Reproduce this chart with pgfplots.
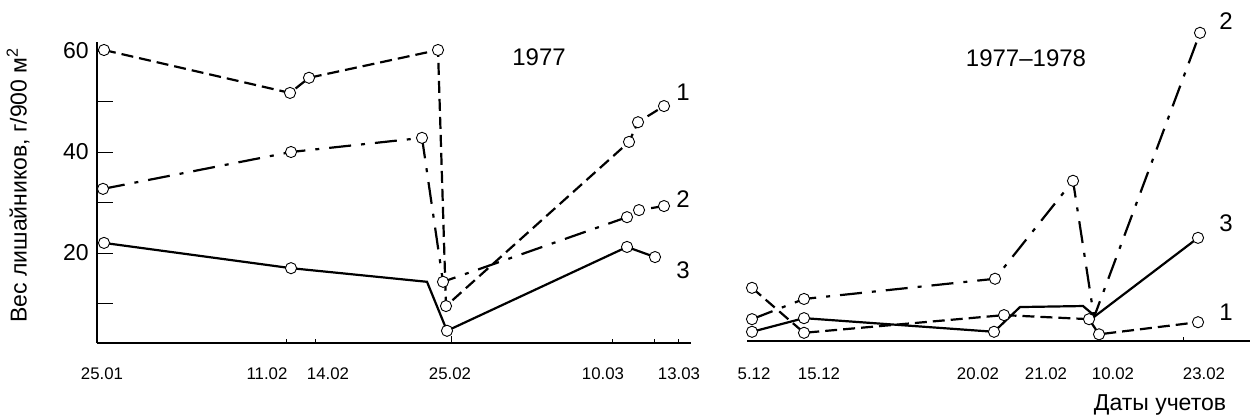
\documentclass[border=0pt]{standalone}
\usepackage{pgfplots}
\pgfplotsset{compat=1.18}
\usepackage{fontspec}
\setmainfont{Liberation Sans}
\tikzset{
 ser1/.style={black, line width=1.1pt, dash pattern=on 6pt off 3pt},
 ser2/.style={black, line width=1.1pt, dash pattern=on 11pt off 5pt on 2pt off 5pt},
 ser3/.style={black, line width=1.1pt, solid},
}
\pgfplotsset{
 mk/.style={mark=*, mark size=2.8pt, mark options={solid, fill=white, draw=black, line width=0.45pt}},
 common/.style={x=0.5pt, y=2.525pt, clip=false,
   axis line style={-, line width=0.7pt},
   /pgf/number format/assume math mode=true,
   tick style={black, line width=0.5pt},
   tick align=inside,
   xtick style={draw=none},
   xticklabel style={anchor=base, font=\fontsize{8.4}{9}\selectfont},
 },
}
\newcommand{\px}[2]{({#1*0.5pt},{-#2*0.5pt})}
\begin{document}
\begin{tikzpicture}
\useasboundingbox (0,0) rectangle (625.5pt,-209pt);
% left panel 1977
\begin{axis}[common, at={(48.5pt,-171.5pt)}, anchor=south west,
  xmin=97, xmax=691, ymin=2.18, ymax=61.8,
  axis x line*=bottom, axis y line*=left,
  ytick={20,40,60}, minor ytick={10,30,50},
  major tick length=8pt, minor tick length=8pt,
  yticklabel style={anchor=east, inner sep=0pt, xshift=-4pt, font=\fontsize{11.5}{12}\selectfont},
  xtick={102,267,328,450,603,679},
  xticklabels={25.01,11.02,14.02,25.02,10.03,13.03},
  xticklabel style={yshift=-18pt},
  extra x ticks={286,315,612,654,678}, extra x tick labels={},
  extra x tick style={major tick length=2pt, xtick style={draw=black}},
]
\addplot[ser1, mk] coordinates {(104,60.2) (290,51.7) (309,54.7) (438,60.2) (446,9.5) (629,42.0) (638,45.9) (664,49.1)};
\addplot[ser2, mk] coordinates {(103,32.7) (291,40.0) (422,42.8) (443,14.3) (627,27.1) (639,28.5) (664,29.3)};
\addplot[ser3, mk, mark indices={1,2,4,5,6}] coordinates {(104,22.0) (291,17.0) (427,14.3) (447,4.6) (627,21.2) (655,19.2)};
\addplot[black, line width=0.5pt] coordinates {(451,2.18) (451,3.6)};
\end{axis}
% right panel 1977-1978
\begin{axis}[common, at={(373.5pt,-170.5pt)}, anchor=south west,
  xmin=747, xmax=1250, ymin=2.574, ymax=66,
  axis x line*=bottom, axis y line=none,
  xtick={754,819,978,1046,1113,1204},
  xticklabels={5.12,15.12,20.02,21.02,10.02,23.02},
  xticklabel style={yshift=-19pt},
  extra x ticks={1183}, extra x tick labels={},
  extra x tick style={major tick length=2pt, xtick style={draw=black}},
]
\addplot[ser1, mk] coordinates {(752,13.1) (804,4.2) (1004,7.7) (1089,6.9) (1099,3.9) (1198,6.3)};
\addplot[ser2, mk, mark indices={1,2,3,4,6}] coordinates {(752,6.9) (804,10.9) (995,14.9) (1073,34.3) (1094,7.3) (1200,63.6)};
\addplot[ser3, mk, mark indices={1,2,3,7}] coordinates {(752,4.4) (804,7.1) (994,4.4) (1020,9.3) (1083,9.5) (1095,7.5) (1198,23.0)};
\end{axis}
\node[rotate=90, font=\fontsize{11.5}{12}\selectfont] at \px{18}{185} {Вес лишайников, г/900 м\textsuperscript{2}};
\node[font=\fontsize{12}{13}\selectfont] at \px{539}{57} {1977};
\node[font=\fontsize{12}{13}\selectfont] at \px{1026}{58} {1977–1978};
\node[font=\fontsize{12}{13}\selectfont] at \px{683}{92} {1};
\node[font=\fontsize{12}{13}\selectfont] at \px{683}{199} {2};
\node[font=\fontsize{12}{13}\selectfont] at \px{683}{270} {3};
\node[font=\fontsize{12}{13}\selectfont] at \px{1226}{21} {2};
\node[font=\fontsize{12}{13}\selectfont] at \px{1226}{223} {3};
\node[font=\fontsize{12}{13}\selectfont] at \px{1226}{312} {1};
\node[font=\fontsize{11.5}{12}\selectfont] at \px{1160}{405} {Даты учетов};
\end{tikzpicture}
\end{document}
